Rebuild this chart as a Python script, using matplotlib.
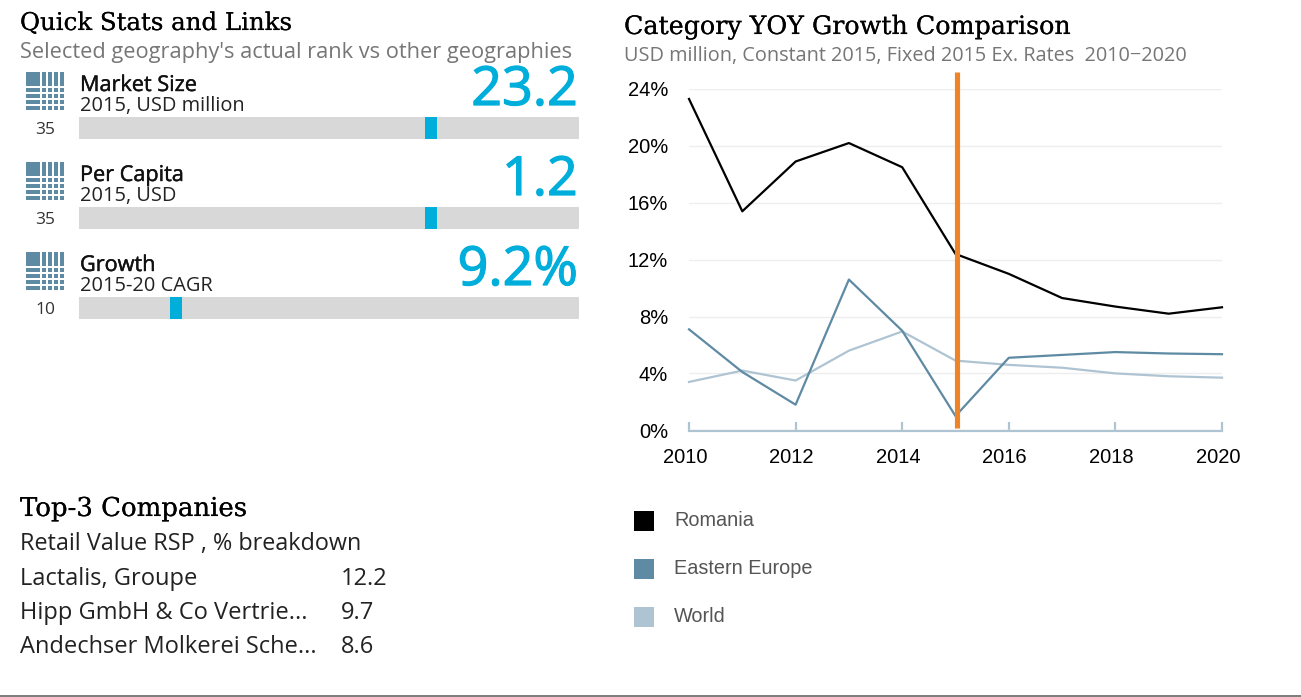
import matplotlib
matplotlib.use('Agg')
import matplotlib.pyplot as plt
import matplotlib.patheffects as pe
from matplotlib.patches import Rectangle
from matplotlib.transforms import ScaledTranslation

years = [2010, 2011, 2012, 2013, 2014, 2015, 2016, 2017, 2018, 2019, 2020]
romania = [23.3, 15.4, 18.9, 20.2, 18.5, 12.4, 11.0, 9.3, 8.7, 8.2, 8.65]
eastern_europe = [7.1, 4.1, 1.8, 10.6, 7.0, 1.0, 5.1, 5.3, 5.5, 5.4, 5.35]
world = [3.4, 4.2, 3.5, 5.6, 6.95, 4.9, 4.6, 4.4, 4.0, 3.8, 3.7]
series_names = ['Romania', 'Eastern Europe', 'World']
marker_year = 2015.03
y_ticks = [0, 4, 8, 12, 16, 20, 24]
x_ticks = [2010, 2012, 2014, 2016, 2018, 2020]

stat_names = ['Market Size', 'Per Capita', 'Growth']
stat_subs = ['2015, USD million', '2015, USD', '2015-20 CAGR']
stat_values = ['23.2', '1.2', '9.2%']
stat_ranks = [35, 35, 10]

companies = ['Lactalis, Groupe', 'Hipp GmbH & Co Vertrie...', 'Andechser Molkerei Sche...']
company_values = ['12.2', '9.7', '8.6']

W, H = 1301, 697
BLUE = '#5F8AA3'
LIGHT = '#AFC4D2'
CYAN = '#00AEDB'
SERIF = 'DejaVu Serif'
BODY = 'Open Sans'
ARIAL = 'Liberation Sans'

fig = plt.figure(figsize=(W / 100, H / 100), dpi=100)

def axes_px(x0, y0, x1, y1, **kw):
    return fig.add_axes([x0 / W, 1 - y1 / H, (x1 - x0) / W, (y1 - y0) / H], **kw)

ov = fig.add_axes([0, 0, 1, 1], zorder=5)
ov.set_xlim(0, W); ov.set_ylim(H, 0); ov.axis('off'); ov.patch.set_alpha(0)

def T(x, y, s, size, color='black', family=BODY, ha='left', heavy=0, **kw):
    t = ov.text(x, y, s, fontsize=size, color=color, family=family, ha=ha, va='baseline', **kw)
    if heavy:
        t.set_path_effects([pe.withStroke(linewidth=heavy, foreground=color)])

# Headings
T(20, 30, 'Quick Stats and Links', 17.6, family=SERIF, heavy=0.1)
T(20, 58, "Selected geography's actual rank vs other geographies", 15.65, color='#767676')
T(624, 34, 'Category YOY Growth Comparison', 18.25, family=SERIF, heavy=0.1)
T(624, 61, 'USD million, Constant 2015, Fixed 2015 Ex. Rates  2010\u22122020', 14.3, color='#767676')
T(20, 516, 'Top-3 Companies', 18.7, family=SERIF, heavy=0.1)
T(20, 550, 'Retail Value RSP , % breakdown', 16.8, color='#222222')
for i, (c, v) in enumerate(zip(companies, company_values)):
    y = 585 + 34 * i
    T(20, y, c, 17, color='#222222')
    T(341, y, v, 17, color='#222222')

def icon(y0):
    xs = [(26, 14), (42, 4), (48, 4), (54, 4), (60, 4)]
    ys = [(0, 14), (16, 4), (22, 4), (28, 4), (34, 4)]
    for x, w in xs:
        for y, h in ys:
            ov.add_patch(Rectangle((x, y0 + y), w, h, fc=BLUE, ec='none'))

# Rank rows
for i, (name, sub, val, rank) in enumerate(zip(stat_names, stat_subs, stat_values, stat_ranks)):
    dy = 90 * i
    icon(72 + dy)
    T(80, 91 + dy, name, 15.6, color='#111111', heavy=0.3)
    T(80, 111 + dy, sub, 14.4, color='#222222')
    T(578, 105 + dy, val, 38.8, color=CYAN, ha='right', heavy=0.9)
    T(55, 133.5 + dy, str(rank), 12.5, color='#333333', ha='right')
    a = axes_px(79, 117 + dy, 579, 139 + dy)
    a.set_xlim(0.5, 49.5); a.set_ylim(0, 1); a.axis('off')
    a.barh(0.5, 49, left=0.5, height=1, color='#D8D8D8')
    a.barh(0.5, 1.1, left=rank - 0.55, height=1, color=CYAN)

# Line chart
ax = axes_px(689, 89, 1222, 431)
ax.set_xlim(2010, 2020)
ax.set_ylim(-0.05, 24)
ax.set_facecolor('none')
for s in ['top', 'left', 'right']:
    ax.spines[s].set_visible(False)
ax.spines['bottom'].set_color(LIGHT)
ax.spines['bottom'].set_linewidth(1.6)
ax.grid(axis='y', color='#EEEEEE', lw=1)
ax.set_axisbelow(True)
ax.set_yticks(y_ticks)
ax.set_yticklabels([f'{v}%' for v in y_ticks], family=ARIAL, fontsize=14.5)
ax.set_xticks(x_ticks)
ax.set_xticklabels([str(y) for y in x_ticks], family=ARIAL, fontsize=14.5)
ax.tick_params(axis='y', length=0, pad=15)
ax.tick_params(axis='x', direction='in', length=6.5, width=1.6, color=LIGHT, pad=12.5)
for lab in ax.get_xticklabels():
    lab.set_transform(lab.get_transform() + ScaledTranslation(-4 / 100, 0, fig.dpi_scale_trans))
ax.plot(years, world, color=LIGHT, lw=1.6, clip_on=False)
ax.plot(years, eastern_europe, color=BLUE, lw=1.6, clip_on=False)
ax.plot(years, romania, color='black', lw=1.6, clip_on=False)

ov.plot([(marker_year - 2010) / 10 * 533 + 689] * 2, [72, 428], color='#EE8427', lw=3.7, solid_capstyle='butt')

# Legend
for i, (name, color) in enumerate(zip(series_names, ['black', BLUE, LIGHT])):
    y = 521 + 48 * i
    ov.add_patch(Rectangle((634, y - 10), 20, 20, fc=color, ec='none'))
    T(674, y + 4.5, name, 14.3, color='#555555', family=ARIAL)

# Frame edge
ov.plot([0, W], [696.3, 696.3], color='#666666', lw=1.2)

fig.savefig('out.png', dpi=100)
